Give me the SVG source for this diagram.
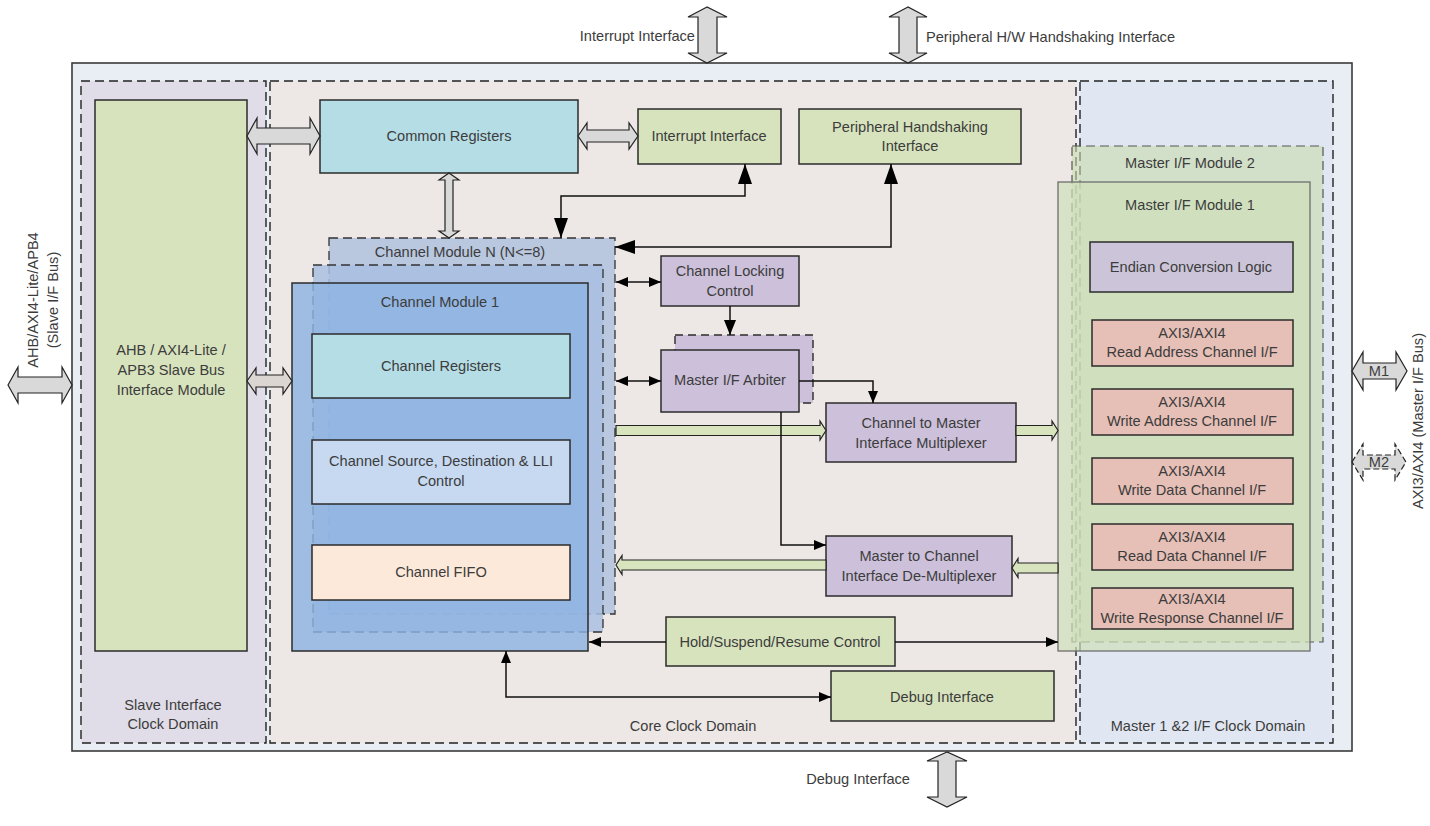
<svg xmlns="http://www.w3.org/2000/svg" width="1430" height="826" viewBox="0 0 1430 826">
<style>
.t{font-family:"Liberation Sans",Arial,sans-serif;font-size:14.6px;fill:#3c3c3c;text-anchor:middle}
.box{stroke:#2b2b2b;stroke-width:1.5}
.dom{stroke:#222;stroke-width:1.4;stroke-dasharray:9 5}
.ln{fill:none;stroke:#111;stroke-width:1.5}
.blk{fill:#d9d9d9;stroke:#222;stroke-width:1.2}
.grn{fill:#d7e4bd;stroke:#222;stroke-width:1.2}
.green{fill:#d7e3bd}
.purple{fill:#ccc0da}
.cyan{fill:#b5dde6}
.pink{fill:#e6bfb6}
</style>
<defs>
<marker id="big" viewBox="0 0 20 14" refX="20" refY="7" markerWidth="20" markerHeight="14" markerUnits="userSpaceOnUse" orient="auto-start-reverse"><path d="M0,0 L20,7 L0,14 Z" fill="#000"/></marker>
<marker id="mid" viewBox="0 0 15 12" refX="15" refY="6" markerWidth="15" markerHeight="12" markerUnits="userSpaceOnUse" orient="auto-start-reverse"><path d="M0,0 L15,6 L0,12 Z" fill="#000"/></marker>
<marker id="sm" viewBox="0 0 12 10" refX="12" refY="5" markerWidth="12" markerHeight="10" markerUnits="userSpaceOnUse" orient="auto-start-reverse"><path d="M0,0 L12,5 L0,10 Z" fill="#000"/></marker>
</defs>
<rect width="1430" height="826" fill="#fff"/>

<g id="outer">
<rect x="72" y="63" width="1280" height="688" fill="#e9edf4" stroke="#3a3a3a" stroke-width="1.6"/>
</g>
<g id="slave-domain">
<rect class="dom" x="81" y="81" width="185" height="662" fill="#e0dce8"/>
<text class="t" x="173" y="710">Slave Interface</text>
<text class="t" x="173" y="729">Clock Domain</text>
</g>
<g id="core-domain">
<rect class="dom" x="270" y="81" width="806" height="662" fill="#ede8e5"/>
<text class="t" x="693" y="731">Core Clock Domain</text>
</g>
<g id="master-domain">
<rect class="dom" x="1080" y="81" width="253" height="662" fill="#e1e7f2"/>
<text class="t" x="1208" y="731">Master 1 &amp;2 I/F Clock Domain</text>
</g>

<g id="ahb-slave">
<rect class="box green" x="95" y="100" width="152" height="551"/>
<text class="t" x="171" y="355">AHB / AXI4-Lite /</text>
<text class="t" x="171" y="375">APB3 Slave Bus</text>
<text class="t" x="171" y="395">Interface Module</text>
</g>
<g id="common-registers">
<rect class="box cyan" x="320" y="100" width="258" height="73"/>
<text class="t" x="449" y="141">Common Registers</text>
</g>
<g id="interrupt-interface">
<rect class="box green" x="638" y="109" width="143" height="55"/>
<text class="t" x="709" y="141">Interrupt Interface</text>
</g>
<g id="peripheral-handshaking">
<rect class="box green" x="799" y="109" width="222" height="55"/>
<text class="t" x="910" y="132">Peripheral Handshaking</text>
<text class="t" x="910" y="151">Interface</text>
</g>

<g id="channel-module-n">
<rect x="329" y="238" width="286" height="376" fill="#b4c3de" fill-opacity="0.92" stroke="#333" stroke-width="1.3" stroke-dasharray="9 5"/>
<text class="t" x="460" y="257">Channel Module N (N&lt;=8)</text>
</g>
<g id="channel-module-mid">
<rect x="313" y="265" width="290" height="367" fill="#a9bfe2" fill-opacity="0.85" stroke="#333" stroke-width="1.3" stroke-dasharray="9 5"/>
</g>
<g id="channel-module-1">
<rect x="292" y="283" width="296" height="368" fill="#8db3e2" fill-opacity="0.82" stroke="#2b2b2b" stroke-width="1.5"/>
<text class="t" x="440" y="307">Channel Module 1</text>
</g>
<g id="channel-registers">
<rect class="box cyan" x="312" y="334" width="258" height="64"/>
<text class="t" x="441" y="371">Channel Registers</text>
</g>
<g id="channel-src-dst">
<rect class="box" x="312" y="440" width="258" height="64" fill="#c6d9f1"/>
<text class="t" x="441" y="466">Channel Source, Destination &amp; LLI</text>
<text class="t" x="441" y="486">Control</text>
</g>
<g id="channel-fifo">
<rect class="box" x="312" y="545" width="258" height="55" fill="#fde9d9"/>
<text class="t" x="441" y="577">Channel FIFO</text>
</g>

<g id="channel-locking">
<rect class="box purple" x="661" y="256" width="138" height="50"/>
<text class="t" x="730" y="276">Channel Locking</text>
<text class="t" x="730" y="296">Control</text>
</g>
<g id="master-arbiter">
<rect x="675" y="335" width="138" height="68" fill="#ccc0da" stroke="#2b2b2b" stroke-width="1.4" stroke-dasharray="8 5"/>
<rect class="box purple" x="661" y="350" width="138" height="62"/>
<text class="t" x="730" y="385">Master I/F Arbiter</text>
</g>
<g id="ch-to-master-mux">
<rect class="box purple" x="826" y="403" width="190" height="59"/>
<text class="t" x="921" y="428">Channel to Master</text>
<text class="t" x="921" y="448">Interface Multiplexer</text>
</g>
<g id="master-to-ch-demux">
<rect class="box purple" x="826" y="536" width="186" height="60"/>
<text class="t" x="919" y="561">Master to Channel</text>
<text class="t" x="919" y="581">Interface De-Multiplexer</text>
</g>
<g id="hold-suspend">
<rect class="box green" x="666" y="617" width="229" height="49"/>
<text class="t" x="780" y="647">Hold/Suspend/Resume Control</text>
</g>
<g id="debug-interface">
<rect class="box green" x="831" y="671" width="223" height="50"/>
<text class="t" x="942" y="702">Debug Interface</text>
</g>

<g id="master-module-2">
<rect x="1072" y="146" width="251" height="496" fill="#c9dcae" fill-opacity="0.6" stroke="#555" stroke-width="1.2" stroke-dasharray="9 5"/>
<text class="t" x="1190" y="168">Master I/F Module 2</text>
</g>
<g id="master-module-1">
<rect x="1058" y="182" width="252" height="469" fill="#cfe0bb" fill-opacity="0.7" stroke="#6e6e6e" stroke-width="1.3"/>
<text class="t" x="1190" y="210">Master I/F Module 1</text>
</g>
<g id="endian">
<rect class="box" x="1090" y="242" width="203" height="50" fill="#ccc5d9"/>
<text class="t" x="1191" y="272">Endian Conversion Logic</text>
</g>
<g id="axi-read-addr">
<rect class="box pink" x="1092" y="320" width="201" height="46"/>
<text class="t" x="1192" y="338">AXI3/AXI4</text>
<text class="t" x="1192" y="357">Read Address Channel I/F</text>
</g>
<g id="axi-write-addr">
<rect class="box pink" x="1092" y="389" width="201" height="46"/>
<text class="t" x="1192" y="407">AXI3/AXI4</text>
<text class="t" x="1192" y="426">Write Address Channel I/F</text>
</g>
<g id="axi-write-data">
<rect class="box pink" x="1092" y="458" width="201" height="46"/>
<text class="t" x="1192" y="476">AXI3/AXI4</text>
<text class="t" x="1192" y="495">Write Data Channel I/F</text>
</g>
<g id="axi-read-data">
<rect class="box pink" x="1092" y="524" width="201" height="46"/>
<text class="t" x="1192" y="542">AXI3/AXI4</text>
<text class="t" x="1192" y="561">Read Data Channel I/F</text>
</g>
<g id="axi-write-resp">
<rect class="box pink" x="1092" y="588" width="201" height="41"/>
<text class="t" x="1192" y="604">AXI3/AXI4</text>
<text class="t" x="1192" y="623">Write Response Channel I/F</text>
</g>

<g id="external-labels">
<text class="t" x="695" y="41" style="text-anchor:end">Interrupt Interface</text>
<text class="t" x="926" y="42" style="text-anchor:start">Peripheral H/W Handshaking Interface</text>
<text class="t" x="910" y="784" style="text-anchor:end">Debug Interface</text>
<text class="t" transform="translate(38,300) rotate(-90)">AHB/AXI4-Lite/APB4</text>
<text class="t" transform="translate(58,300) rotate(-90)">(Slave I/F Bus)</text>
<text class="t" transform="translate(1423,421) rotate(-90)">AXI3/AXI4 (Master I/F Bus)</text>
</g>

<g id="connectors">
<path class="blk" d="M247,136 L257,118 L257,128 L310,128 L310,118 L320,136 L310,154 L310,144 L257,144 L257,154 Z"/>
<path class="blk" d="M578,136 L587,123 L587,130 L629,130 L629,123 L638,136 L629,149 L629,142 L587,142 L587,149 Z"/>
<path class="blk" d="M247,381 L256,368 L256,375 L283,375 L283,368 L292,381 L283,394 L283,387 L256,387 L256,394 Z" style="fill:#dcd6d2"/>
<path class="blk" d="M8,385 L18,367 L18,377 L62,377 L62,367 L72,385 L62,403 L62,393 L18,393 L18,403 Z"/>
<path class="blk" d="M1352,371 L1363,352 L1363,363 L1396,363 L1396,352 L1407,371 L1396,390 L1396,379 L1363,379 L1363,390 Z"/>
<path class="blk" d="M1352,462 L1363,444 L1363,455 L1395,455 L1395,444 L1406,462 L1395,480 L1395,469 L1363,469 L1363,480 Z" style="stroke-dasharray:6 3"/>
<text class="t" x="1379" y="376">M1</text>
<text class="t" x="1379" y="467">M2</text>
<path class="blk" d="M707,7 L688,17 L698,17 L698,53 L688,53 L707,63 L727,53 L717,53 L717,17 L727,17 Z"/>
<path class="blk" d="M908,7 L889,17 L899,17 L899,53 L889,53 L908,63 L927,53 L917,53 L917,17 L927,17 Z"/>
<path class="blk" d="M947,752 L927,761 L938,761 L938,797 L927,797 L947,807 L967,797 L956,797 L956,761 L967,761 Z"/>
<path class="blk" d="M449,173 L439,180 L445,180 L445,231 L439,231 L449,238 L459,231 L453,231 L453,180 L459,180 Z"/>
<path class="grn" d="M616,425.5 L820,425.5 L820,421 L826,430.5 L820,440 L820,435.5 L616,435.5 Z"/>
<path class="grn" d="M1016,425.5 L1052,425.5 L1052,421 L1058,430.5 L1052,440 L1052,435.5 L1016,435.5 Z"/>
<path class="grn" d="M826,560 L622,560 L622,555.5 L616,565 L622,574.5 L622,570 L826,570 Z"/>
<path class="grn" d="M1058,563 L1018,563 L1018,558.5 L1012,568 L1018,577.5 L1018,573 L1058,573 Z"/>
<path class="ln" d="M745,164 V196 H561 V238" marker-start="url(#big)" marker-end="url(#big)"/>
<path class="ln" d="M891,164 V247 H615" marker-start="url(#big)" marker-end="url(#big)"/>
<path class="ln" d="M616,282 H661" marker-start="url(#sm)" marker-end="url(#sm)"/>
<path class="ln" d="M616,381 H661" marker-start="url(#sm)" marker-end="url(#sm)"/>
<path class="ln" d="M730,306 V335" marker-end="url(#mid)"/>
<path class="ln" d="M799,381 H873 V403" marker-end="url(#sm)"/>
<path class="ln" d="M781,412 V545 H826" marker-end="url(#sm)"/>
<path class="ln" d="M666,642 H589" marker-end="url(#sm)"/>
<path class="ln" d="M895,642 H1058" marker-end="url(#sm)"/>
<path class="ln" d="M506,651 V697 H831" marker-start="url(#sm)" marker-end="url(#sm)"/>
</g>
</svg>
